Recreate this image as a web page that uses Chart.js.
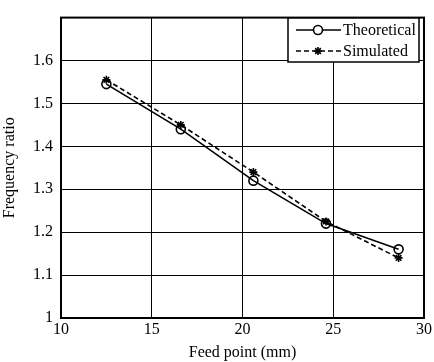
<!DOCTYPE html>
<html lang="en">
<head>
  <meta charset="UTF-8">
  <title>Frequency ratio vs feed point</title>
  <script src="https://cdn.jsdelivr.net/npm/chart.js"></script>
  <style>
    html, body { margin: 0; padding: 0; background: #fff; }
    #wrap { width: 434px; height: 362px; }
  </style>
</head>
<body>
  <div id="wrap"><canvas id="chart" width="434" height="362"></canvas></div>
  <script>
    const feedPoints = [12.5, 16.6, 20.6, 24.6, 28.6];
    const theoretical = [1.545, 1.44, 1.32, 1.22, 1.16];
    const simulated = [1.555, 1.45, 1.34, 1.225, 1.14];
    const xTicks = [10, 15, 20, 25, 30];
    const yTicks = [1, 1.1, 1.2, 1.3, 1.4, 1.5, 1.6, 1.7];
    const seriesNames = ['Theoretical', 'Simulated'];

    const serif = "'Liberation Serif', 'Times New Roman', serif";

    // box around the plot + legend drawn inside the top right corner
    const framePlugin = {
      id: 'frame',
      afterDatasetsDraw(chart) {
        const { ctx, chartArea: a } = chart;
        ctx.save();
        ctx.strokeStyle = '#000';
        ctx.lineWidth = 2;
        ctx.strokeRect(a.left, a.top, a.right - a.left, a.bottom - a.top);

        // legend
        const bx = 288, by = 18, bw = 131, bh = 44;
        ctx.fillStyle = '#fff';
        ctx.fillRect(bx, by, bw, bh);
        ctx.lineWidth = 1.5;
        ctx.strokeRect(bx, by, bw, bh);
        ctx.font = '16px ' + serif;
        ctx.textBaseline = 'middle';
        chart.data.datasets.forEach((ds, i) => {
          const y = by + 12 + i * 21;
          ctx.lineWidth = 1.6;
          ctx.setLineDash(ds.borderDash || []);
          ctx.beginPath();
          ctx.moveTo(bx + 8, y);
          ctx.lineTo(bx + 53, y);
          ctx.stroke();
          ctx.setLineDash([]);
          ctx.fillStyle = i === 0 ? '#fff' : '#000';
          Chart.helpers.drawPoint(ctx, {
            pointStyle: ds.pointStyle, radius: ds.pointRadius, rotation: 0,
            borderWidth: ds.pointBorderWidth
          }, bx + 30, y);
          ctx.fillStyle = '#000';
          ctx.fillText(ds.label, bx + 55, y + 1);
        });
        ctx.restore();
      }
    };

    new Chart(document.getElementById('chart'), {
      type: 'line',
      data: {
        datasets: [
          {
            label: seriesNames[0],
            data: feedPoints.map((x, i) => ({ x: x, y: theoretical[i] })),
            borderColor: '#000',
            backgroundColor: 'rgba(0,0,0,0)',
            borderWidth: 1.6,
            pointStyle: 'circle',
            pointRadius: 4.5,
            pointBorderWidth: 1.6,
            pointBorderColor: '#000',
            pointBackgroundColor: 'rgba(0,0,0,0)'
          },
          {
            label: seriesNames[1],
            data: feedPoints.map((x, i) => ({ x: x, y: simulated[i] })),
            borderColor: '#000',
            backgroundColor: '#000',
            borderWidth: 1.6,
            borderDash: [5, 3],
            pointStyle: 'star',
            pointRadius: 4,
            pointBorderWidth: 1.6,
            pointBorderColor: '#000',
            pointBackgroundColor: '#000'
          }
        ]
      },
      options: {
        responsive: false,
        animation: false,
        layout: { padding: { left: 0, right: 7, top: 13, bottom: 0 } },
        plugins: {
          legend: { display: false },
          tooltip: { enabled: false }
        },
        scales: {
          x: {
            type: 'linear',
            min: 10,
            max: 30,
            afterBuildTicks(scale) { scale.ticks = xTicks.map(v => ({ value: v })); },
            afterFit(scale) { scale.height = 44; },
            grid: { color: '#000', lineWidth: 1, drawTicks: false },
            border: { display: false },
            ticks: {
              color: '#000',
              padding: 2,
              maxRotation: 0,
              font: { family: serif, size: 16 }
            },
            title: {
              display: true,
              text: 'Feed point (mm)',
              color: '#000',
              padding: { top: 4, bottom: 0 },
              font: { family: serif, size: 16 }
            }
          },
          y: {
            min: 1,
            max: 1.7,
            afterBuildTicks(scale) { scale.ticks = yTicks.map(v => ({ value: v })); },
            afterFit(scale) { scale.width = 61; },
            grid: { color: '#000', lineWidth: 1, drawTicks: false },
            border: { display: false },
            ticks: {
              color: '#000',
              padding: 8,
              font: { family: serif, size: 16 },
              callback: v => (v >= 1.65 ? '' : String(+v.toFixed(1)))
            },
            title: {
              display: true,
              text: 'Frequency ratio',
              color: '#000',
              padding: { top: 0, bottom: 2 },
              font: { family: serif, size: 16 }
            }
          }
        }
      },
      plugins: [framePlugin]
    });
  </script>
</body>
</html>
